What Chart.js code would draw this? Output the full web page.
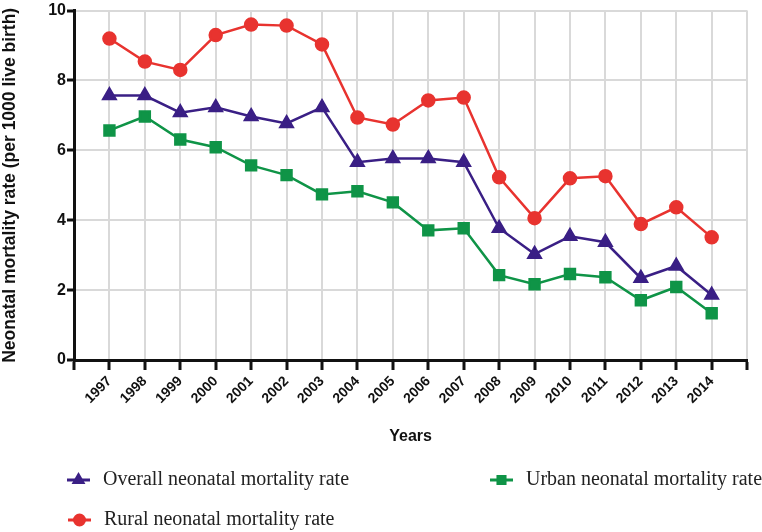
<!DOCTYPE html>
<html>
<head>
<meta charset="utf-8">
<script src="https://cdn.jsdelivr.net/npm/chart.js@4.4.1/dist/chart.umd.min.js"></script>
<style>
  html, body { margin: 0; padding: 0; background: #fff; }
  #wrap { width: 762px; height: 532px; }
</style>
</head>
<body>
<div id="wrap"><canvas id="nmr"></canvas></div>
<script>
const years = [1997, 1998, 1999, 2000, 2001, 2002, 2003, 2004, 2005, 2006, 2007, 2008, 2009, 2010, 2011, 2012, 2013, 2014];
const overall = [7.57, 7.57, 7.08, 7.23, 6.97, 6.77, 7.23, 5.66, 5.77, 5.77, 5.66, 3.77, 3.03, 3.54, 3.37, 2.34, 2.69, 1.86];
const urban   = [6.57, 6.97, 6.31, 6.09, 5.57, 5.29, 4.74, 4.83, 4.51, 3.71, 3.77, 2.43, 2.17, 2.46, 2.37, 1.71, 2.09, 1.34];
const rural   = [9.20, 8.54, 8.30, 9.30, 9.60, 9.57, 9.03, 6.94, 6.74, 7.43, 7.51, 5.23, 4.06, 5.20, 5.26, 3.89, 4.37, 3.51];
const yTicks = [0, 2, 4, 6, 8, 10];

const purple = '#3a1f85';
const green = '#0f9447';
const red = '#e8332f';

function pts(vals) {
  return vals.map((v, i) => ({ x: years[i], y: v }));
}

// legend drawn by hand to copy the GraphPad layout
const legendPlugin = {
  id: 'sideLegend',
  afterDraw(chart) {
    const c = chart.ctx;
    const items = [
      { ds: 0, x: 67, y: 480 },
      { ds: 1, x: 490, y: 480 },
      { ds: 2, x: 68, y: 520 }
    ];
    c.save();
    items.forEach(it => {
      const ds = chart.data.datasets[it.ds];
      c.strokeStyle = ds.borderColor;
      c.lineWidth = 3;
      c.beginPath();
      c.moveTo(it.x, it.y);
      c.lineTo(it.x + 23, it.y);
      c.stroke();
      Chart.helpers.drawPoint(c, {
        pointStyle: ds.pointStyle,
        radius: 5,
        borderWidth: 1
      }, it.x + 11.5, it.y);
      c.fillStyle = ds.borderColor;
      c.fill();
      c.fillStyle = '#222';
      c.font = '20px "Liberation Serif", "Times New Roman", serif';
      c.textBaseline = 'middle';
      c.textAlign = 'left';
      c.fillText(ds.label, it.x + 36, it.y);
    });
    c.restore();
  }
};

new Chart(document.getElementById('nmr'), {
  type: 'line',
  data: {
    datasets: [
      {
        label: 'Overall neonatal mortality rate',
        data: pts(overall),
        borderColor: purple,
        backgroundColor: purple,
        pointStyle: 'triangle',
        pointRadius: 7,
        borderWidth: 2.5
      },
      {
        label: 'Urban neonatal mortality rate',
        data: pts(urban),
        borderColor: green,
        backgroundColor: green,
        pointStyle: 'rect',
        pointRadius: 7,
        borderWidth: 2.5
      },
      {
        label: 'Rural neonatal mortality rate',
        data: pts(rural),
        borderColor: red,
        backgroundColor: red,
        pointStyle: 'circle',
        pointRadius: 6,
        borderWidth: 2.5
      }
    ]
  },
  options: {
    responsive: true,
    maintainAspectRatio: false,
    animation: false,
    layout: { padding: { top: 10, right: 12, bottom: 82, left: 0 } },
    plugins: {
      legend: { display: false },
      tooltip: { enabled: false }
    },
    scales: {
      x: {
        type: 'linear',
        min: 1996,
        max: 2015,
        afterFit(scale) { scale.height = 90; },
        afterBuildTicks(scale) {
          scale.ticks = [];
          for (let v = 1996; v <= 2015; v++) scale.ticks.push({ value: v });
        },
        border: { color: '#111', width: 3 },
        grid: { color: '#d9d9d9', lineWidth: 2, tickColor: '#111', tickWidth: 3, tickLength: 10 },
        ticks: {
          autoSkip: false,
          minRotation: 45,
          maxRotation: 45,
          color: '#111',
          font: { family: 'Liberation Sans, Arial', size: 14, weight: 'bold' },
          callback: v => years.includes(v) ? String(v) : ''
        },
        title: {
          display: true,
          text: 'Years',
          color: '#111',
          font: { family: 'Liberation Sans, Arial', size: 16, weight: 'bold' },
          padding: { top: 0 }
        }
      },
      y: {
        min: 0,
        max: 10,
        afterFit(scale) { scale.width = 74; },
        afterBuildTicks(scale) {
          scale.ticks = yTicks.map(v => ({ value: v }));
        },
        border: { color: '#111', width: 3 },
        grid: { color: '#d9d9d9', lineWidth: 2, tickColor: '#111', tickWidth: 3, tickLength: 7 },
        ticks: {
          color: '#111',
          padding: 1,
          font: { family: 'Liberation Sans, Arial', size: 16, weight: 'bold' }
        },
        title: {
          display: true,
          text: 'Neonatal mortality rate (per 1000 live birth)',
          color: '#111',
          font: { family: 'Liberation Sans, Arial', size: 17.5, weight: 'bold' },
          padding: 0
        }
      }
    }
  },
  plugins: [legendPlugin]
});
</script>
</body>
</html>
